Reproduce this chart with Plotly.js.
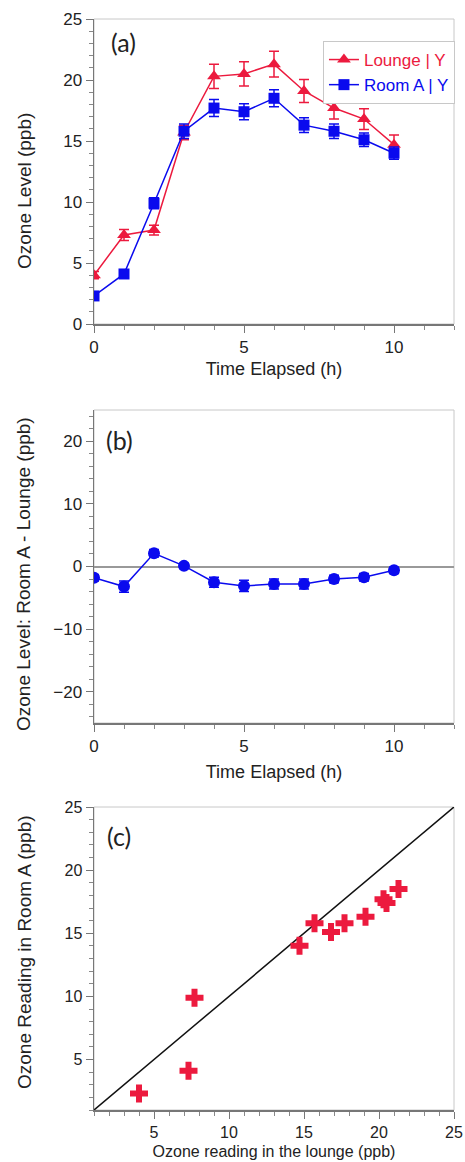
<!DOCTYPE html>
<html>
<head>
<meta charset="utf-8">
<script src="https://cdn.plot.ly/plotly-3.0.1.min.js"></script>
<style>html,body{margin:0;padding:0;background:#fff;}#chart{width:465px;height:1162px;}</style>
</head>
<body>
<div id="chart"></div>
<script>
// ---- data ----
var hours = [0, 1, 2, 3, 4, 5, 6, 7, 8, 9, 10];
var lounge = [4.0, 7.3, 7.7, 15.7, 20.3, 20.5, 21.3, 19.1, 17.7, 16.8, 14.7];
var loungeErr = [0.3, 0.45, 0.4, 0.6, 1.0, 1.0, 1.05, 0.95, 0.9, 0.85, 0.8];
var roomA = [2.3, 4.1, 9.9, 15.8, 17.7, 17.4, 18.5, 16.3, 15.8, 15.1, 14.0];
var roomAErr = [0.3, 0.35, 0.45, 0.6, 0.7, 0.65, 0.7, 0.6, 0.6, 0.55, 0.5];
var diff = [-1.8, -3.2, 2.1, 0.1, -2.5, -3.1, -2.8, -2.8, -2.0, -1.7, -0.6];
var diffErr = [0.5, 0.9, 0.6, 0.4, 0.8, 0.9, 0.8, 0.8, 0.6, 0.6, 0.5];
var diag = [1, 25];

var RED = '#ec1a3e';
var BLUE = '#0a0aee';
var FONT = 'Liberation Sans, Arial, sans-serif';

var traces = [
  {x: hours, y: lounge, type: 'scatter', mode: 'lines+markers',
   name: '<span style="color:' + RED + '">Lounge | Y</span>',
   line: {color: RED, width: 1.5},
   marker: {symbol: 'triangle-up', size: 12, color: RED},
   error_y: {type: 'data', array: loungeErr, visible: true, color: RED, thickness: 1.5, width: 5},
   xaxis: 'x', yaxis: 'y'},
  {x: hours, y: roomA, type: 'scatter', mode: 'lines+markers',
   name: '<span style="color:' + BLUE + '">Room A | Y</span>',
   line: {color: BLUE, width: 1.5},
   marker: {symbol: 'square', size: 11, color: BLUE},
   error_y: {type: 'data', array: roomAErr, visible: true, color: BLUE, thickness: 1.5, width: 5},
   xaxis: 'x', yaxis: 'y'},
  {x: hours, y: diff, type: 'scatter', mode: 'lines+markers', showlegend: false,
   line: {color: BLUE, width: 1.5},
   marker: {symbol: 'circle', size: 12, color: BLUE},
   error_y: {type: 'data', array: diffErr, visible: true, color: BLUE, thickness: 1.5, width: 5},
   xaxis: 'x2', yaxis: 'y2'},
  {x: diag, y: diag, type: 'scatter', mode: 'lines', showlegend: false,
   line: {color: '#111', width: 1.5},
   xaxis: 'x3', yaxis: 'y3'},
  {x: lounge, y: roomA, type: 'scatter', mode: 'markers', showlegend: false,
   marker: {symbol: 'cross', size: 15, color: RED},
   xaxis: 'x3', yaxis: 'y3'}
];

function ax(extra) {
  var base = {
    showline: true, linecolor: '#777', linewidth: 1.5,
    ticks: 'outside', ticklen: 7, tickwidth: 1, tickcolor: '#777',
    showgrid: false, zeroline: false,
    tickfont: {family: FONT, size: 17, color: '#222'},
    minor: {ticks: 'outside', ticklen: 4, tickcolor: '#888', showgrid: false}
  };
  for (var k in extra) base[k] = extra[k];
  return base;
}

var H = 1162;
function py(px) { return 1 - px / H; }

var layout = {
  width: 465, height: 1162,
  margin: {l: 94, r: 11, t: 0, b: 0},
  paper_bgcolor: '#fff', plot_bgcolor: '#fff',
  font: {family: FONT, color: '#222'},
  showlegend: true,
  legend: {x: 0.636, y: py(41), xanchor: 'left', yanchor: 'top',
           bordercolor: '#c8c8c8', borderwidth: 1, bgcolor: '#fff',
           font: {family: FONT, size: 17}, itemwidth: 30, tracegroupgap: 0},
  xaxis: ax({domain: [0, 1], anchor: 'y', range: [0, 12], dtick: 5, tick0: 0,
             minor: {dtick: 1, ticks: 'outside', ticklen: 4, tickcolor: '#888'},
             title: {text: 'Time Elapsed (h)', font: {family: FONT, size: 18, color: '#222'}, standoff: 6}}),
  yaxis: ax({domain: [py(324), py(19)], anchor: 'x', range: [0, 25], dtick: 5,
             minor: {dtick: 1, ticks: 'outside', ticklen: 4, tickcolor: '#888'}}),
  xaxis2: ax({domain: [0, 1], anchor: 'y2', range: [0, 12], dtick: 5, tick0: 0,
              minor: {dtick: 1, ticks: 'outside', ticklen: 4, tickcolor: '#888'},
              title: {text: 'Time Elapsed (h)', font: {family: FONT, size: 18, color: '#222'}, standoff: 10}}),
  yaxis2: ax({domain: [py(723), py(410)], anchor: 'x2', range: [-25, 25], dtick: 10,
              minor: {dtick: 2, ticks: 'outside', ticklen: 4, tickcolor: '#888'},
              zeroline: true, zerolinecolor: '#999', zerolinewidth: 2}),
  xaxis3: ax({domain: [0, 1], anchor: 'y3', range: [1, 25], dtick: 5, tick0: 0,
              tickfont: {family: FONT, size: 16, color: '#222'},
              minor: {dtick: 1, ticks: 'outside', ticklen: 4, tickcolor: '#888'},
              title: {text: 'Ozone reading in the lounge (ppb)', font: {family: FONT, size: 16, color: '#222'}, standoff: 6}}),
  yaxis3: ax({domain: [py(1110), py(807)], anchor: 'x3', range: [1, 25], dtick: 5, tick0: 0,
              tickfont: {family: FONT, size: 16, color: '#222'},
              minor: {dtick: 1, ticks: 'outside', ticklen: 4, tickcolor: '#888'}}),
  shapes: [
    {type: 'rect', xref: 'x domain', yref: 'y domain', x0: 0, x1: 1, y0: 0, y1: 1, line: {color: '#c8c8c8', width: 1}, layer: 'below'},
    {type: 'rect', xref: 'x2 domain', yref: 'y2 domain', x0: 0, x1: 1, y0: 0, y1: 1, line: {color: '#c8c8c8', width: 1}, layer: 'below'},
    {type: 'rect', xref: 'x3 domain', yref: 'y3 domain', x0: 0, x1: 1, y0: 0, y1: 1, line: {color: '#c8c8c8', width: 1}, layer: 'below'}
  ],
  annotations: [
    {text: '(a)', xref: 'paper', yref: 'paper', x: (123 - 94) / 360, y: py(42), xanchor: 'center', yanchor: 'middle', showarrow: false,
     font: {family: 'Lato, Open Sans, sans-serif', size: 25, color: '#222'}},
    {text: '(b)', xref: 'paper', yref: 'paper', x: (119 - 94) / 360, y: py(440), xanchor: 'center', yanchor: 'middle', showarrow: false,
     font: {family: 'Lato, Open Sans, sans-serif', size: 25, color: '#222'}},
    {text: '(c)', xref: 'paper', yref: 'paper', x: (119 - 94) / 360, y: py(836), xanchor: 'center', yanchor: 'middle', showarrow: false,
     font: {family: 'Lato, Open Sans, sans-serif', size: 25, color: '#222'}},
    {text: 'Ozone Level (ppb)', xref: 'paper', yref: 'paper', x: (24 - 94) / 360, y: py(191), xanchor: 'center', yanchor: 'middle',
     textangle: -90, showarrow: false, font: {family: FONT, size: 19, color: '#222'}},
    {text: 'Ozone Level: Room A - Lounge (ppb)', xref: 'paper', yref: 'paper', x: (24 - 94) / 360, y: py(574), xanchor: 'center', yanchor: 'middle',
     textangle: -90, showarrow: false, font: {family: FONT, size: 19, color: '#222'}},
    {text: 'Ozone Reading in Room A (ppb)', xref: 'paper', yref: 'paper', x: (24 - 94) / 360, y: py(952), xanchor: 'center', yanchor: 'middle',
     textangle: -90, showarrow: false, font: {family: FONT, size: 19, color: '#222'}}
  ]
};

Plotly.newPlot('chart', traces, layout, {displayModeBar: false, staticPlot: true});
</script>
</body>
</html>
